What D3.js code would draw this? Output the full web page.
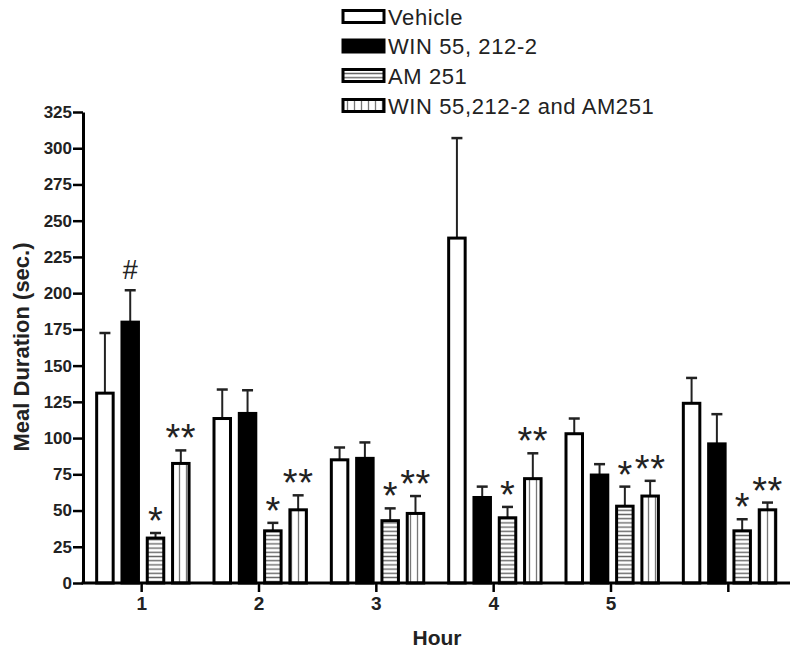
<!DOCTYPE html>
<html><head><meta charset="utf-8">
<script src="https://cdn.jsdelivr.net/npm/d3@7"></script>
<style>body{margin:0;background:#fff}svg{display:block}text{font-family:"Liberation Sans",Arial,sans-serif}</style>
</head><body>
<svg id="chart" width="800" height="654"></svg>
<script>
const hours = ["1","2","3","4","5","6"];
const hourLabels = ["1","2","3","4","5",""];
const seriesNames = ["Vehicle","WIN 55, 212-2","AM 251","WIN 55,212-2 and AM251"];
const vehicleMean = [131, 113.5, 85, 238, 103, 124];
const vehicleSem  = [41.5, 20, 8.5, 69, 10.5, 17.5];
const winMean = [180, 117, 86, 59, 74.5, 96];
const winSem  = [22, 16, 11, 7.5, 7.5, 20.5];
const amMean = [31, 36, 43, 45, 53, 36];
const amSem  = [3.5, 5.5, 8.5, 7.5, 13.5, 8];
const comboMean = [82.5, 50.5, 48, 72, 60, 50.5];
const comboSem  = [9, 10, 12, 17.5, 10.5, 5];
const vehicleMarks = ["","","","","",""];
const winMarks = ["#","","","","",""];
const amMarks = ["*","*","*","*","*","*"];
const comboMarks = ["**","**","**","**","**","**"];
const yTicks = [0,25,50,75,100,125,150,175,200,225,250,275,300,325];

const series = [
  {name: seriesNames[0], mean: vehicleMean, sem: vehicleSem, marks: vehicleMarks, fill: "#fff"},
  {name: seriesNames[1], mean: winMean, sem: winSem, marks: winMarks, fill: "#000"},
  {name: seriesNames[2], mean: amMean, sem: amSem, marks: amMarks, fill: "url(#hstripe)"},
  {name: seriesNames[3], mean: comboMean, sem: comboSem, marks: comboMarks, fill: "url(#vstripe)"}
];

const svg = d3.select("#chart");
const defs = svg.append("defs");
const ph = defs.append("pattern").attr("id","hstripe").attr("patternUnits","userSpaceOnUse").attr("width",6).attr("height",4.2);
ph.append("rect").attr("width",6).attr("height",4.2).attr("fill","#fff");
ph.append("line").attr("x1",0).attr("x2",6).attr("y1",2.1).attr("y2",2.1).attr("stroke","#666").attr("stroke-width",1.4);
const pv = defs.append("pattern").attr("id","vstripe").attr("patternUnits","userSpaceOnUse").attr("width",7).attr("height",6).attr("x",1);
pv.append("rect").attr("width",7).attr("height",6).attr("fill","#fff");
pv.append("line").attr("x1",3.5).attr("x2",3.5).attr("y1",0).attr("y2",6).attr("stroke","#777").attr("stroke-width",1.3);

const y = d3.scaleLinear().domain([0,325]).range([583,112]);
const x0 = d3.scaleBand().domain(hours).range([83,787]).padding(0);
const x1 = d3.scaleBand().domain(d3.range(4)).range([-45,47.4]).paddingInner(0.348).paddingOuter(0);
const bw = x1.bandwidth();

// bars
series.forEach((s, si) => {
  const g = svg.append("g");
  hours.forEach((h, i) => {
    const cx = x0(h) + x0.bandwidth()/2 + x1(si);
    const mid = cx + bw/2;
    const top = y(s.mean[i] + s.sem[i]);
    g.append("line").attr("x1",mid).attr("x2",mid).attr("y1",y(s.mean[i])).attr("y2",top)
      .attr("stroke","#222").attr("stroke-width",2);
    g.append("line").attr("x1",mid-5.5).attr("x2",mid+5.5).attr("y1",top).attr("y2",top)
      .attr("stroke","#222").attr("stroke-width",2.5);
    g.append("rect").attr("x",cx).attr("y",y(s.mean[i])).attr("width",bw).attr("height",y(0)-y(s.mean[i]))
      .attr("fill",s.fill).attr("stroke","#000").attr("stroke-width",3);
    const m = s.marks[i];
    if (m) {
      const isHash = m === "#";
      const fs = isHash ? 27 : 38;
      const c = top - 21;
      g.append("text").attr("x",mid).attr("y", isHash ? c + 9.5 : c + 0.58*fs)
        .attr("text-anchor","middle").attr("font-size",fs).attr("fill","#222")
        .attr("letter-spacing", m === "**" ? 0.5 : 0)
        .text(m);
    }
  });
});

// y axis
const yAxis = svg.append("g").attr("transform","translate(83,0)")
  .call(d3.axisLeft(y).tickValues(yTicks).tickSize(10).tickPadding(1).tickSizeOuter(0));
yAxis.select(".domain").attr("stroke","#000").attr("stroke-width",3);
yAxis.selectAll(".tick line").attr("stroke","#000").attr("stroke-width",2.5);
yAxis.selectAll(".tick text").attr("font-size",17).attr("font-weight","bold").attr("fill","#222")
  .attr("font-family","Liberation Sans, Arial, sans-serif");

// x axis
const xAxis = svg.append("g").attr("transform","translate(0,583)")
  .call(d3.axisBottom(x0).tickSize(9).tickPadding(5).tickSizeOuter(0).tickFormat((d,i)=>hourLabels[i]));
xAxis.select(".domain").remove();
svg.append("line").attr("x1",81.5).attr("x2",790).attr("y1",583).attr("y2",583).attr("stroke","#000").attr("stroke-width",3);
xAxis.selectAll(".tick line").attr("stroke","#000").attr("stroke-width",2.5);
xAxis.selectAll(".tick text").attr("font-size",19).attr("font-weight","bold").attr("fill","#222")
  .attr("font-family","Liberation Sans, Arial, sans-serif");

// axis titles
svg.append("text").attr("x",437).attr("y",645).attr("text-anchor","middle")
  .attr("font-size",21).attr("font-weight","bold").attr("fill","#222").text("Hour");
svg.append("text").attr("transform","translate(29,347) rotate(-90)").attr("text-anchor","middle")
  .attr("font-size",22).attr("font-weight","bold").attr("fill","#222").text("Meal Duration (sec.)");

// legend
const legendY = [16.5, 46, 75.5, 105.5];
series.forEach((s, i) => {
  svg.append("rect").attr("x",343).attr("y",legendY[i]-6).attr("width",41).attr("height",12)
    .attr("fill",s.fill).attr("stroke","#000").attr("stroke-width",3);
  svg.append("text").attr("x",388).attr("y",legendY[i]+8).attr("font-size",22).attr("letter-spacing",0.6)
    .attr("fill","#222").text(s.name);
});
</script>
</body></html>
